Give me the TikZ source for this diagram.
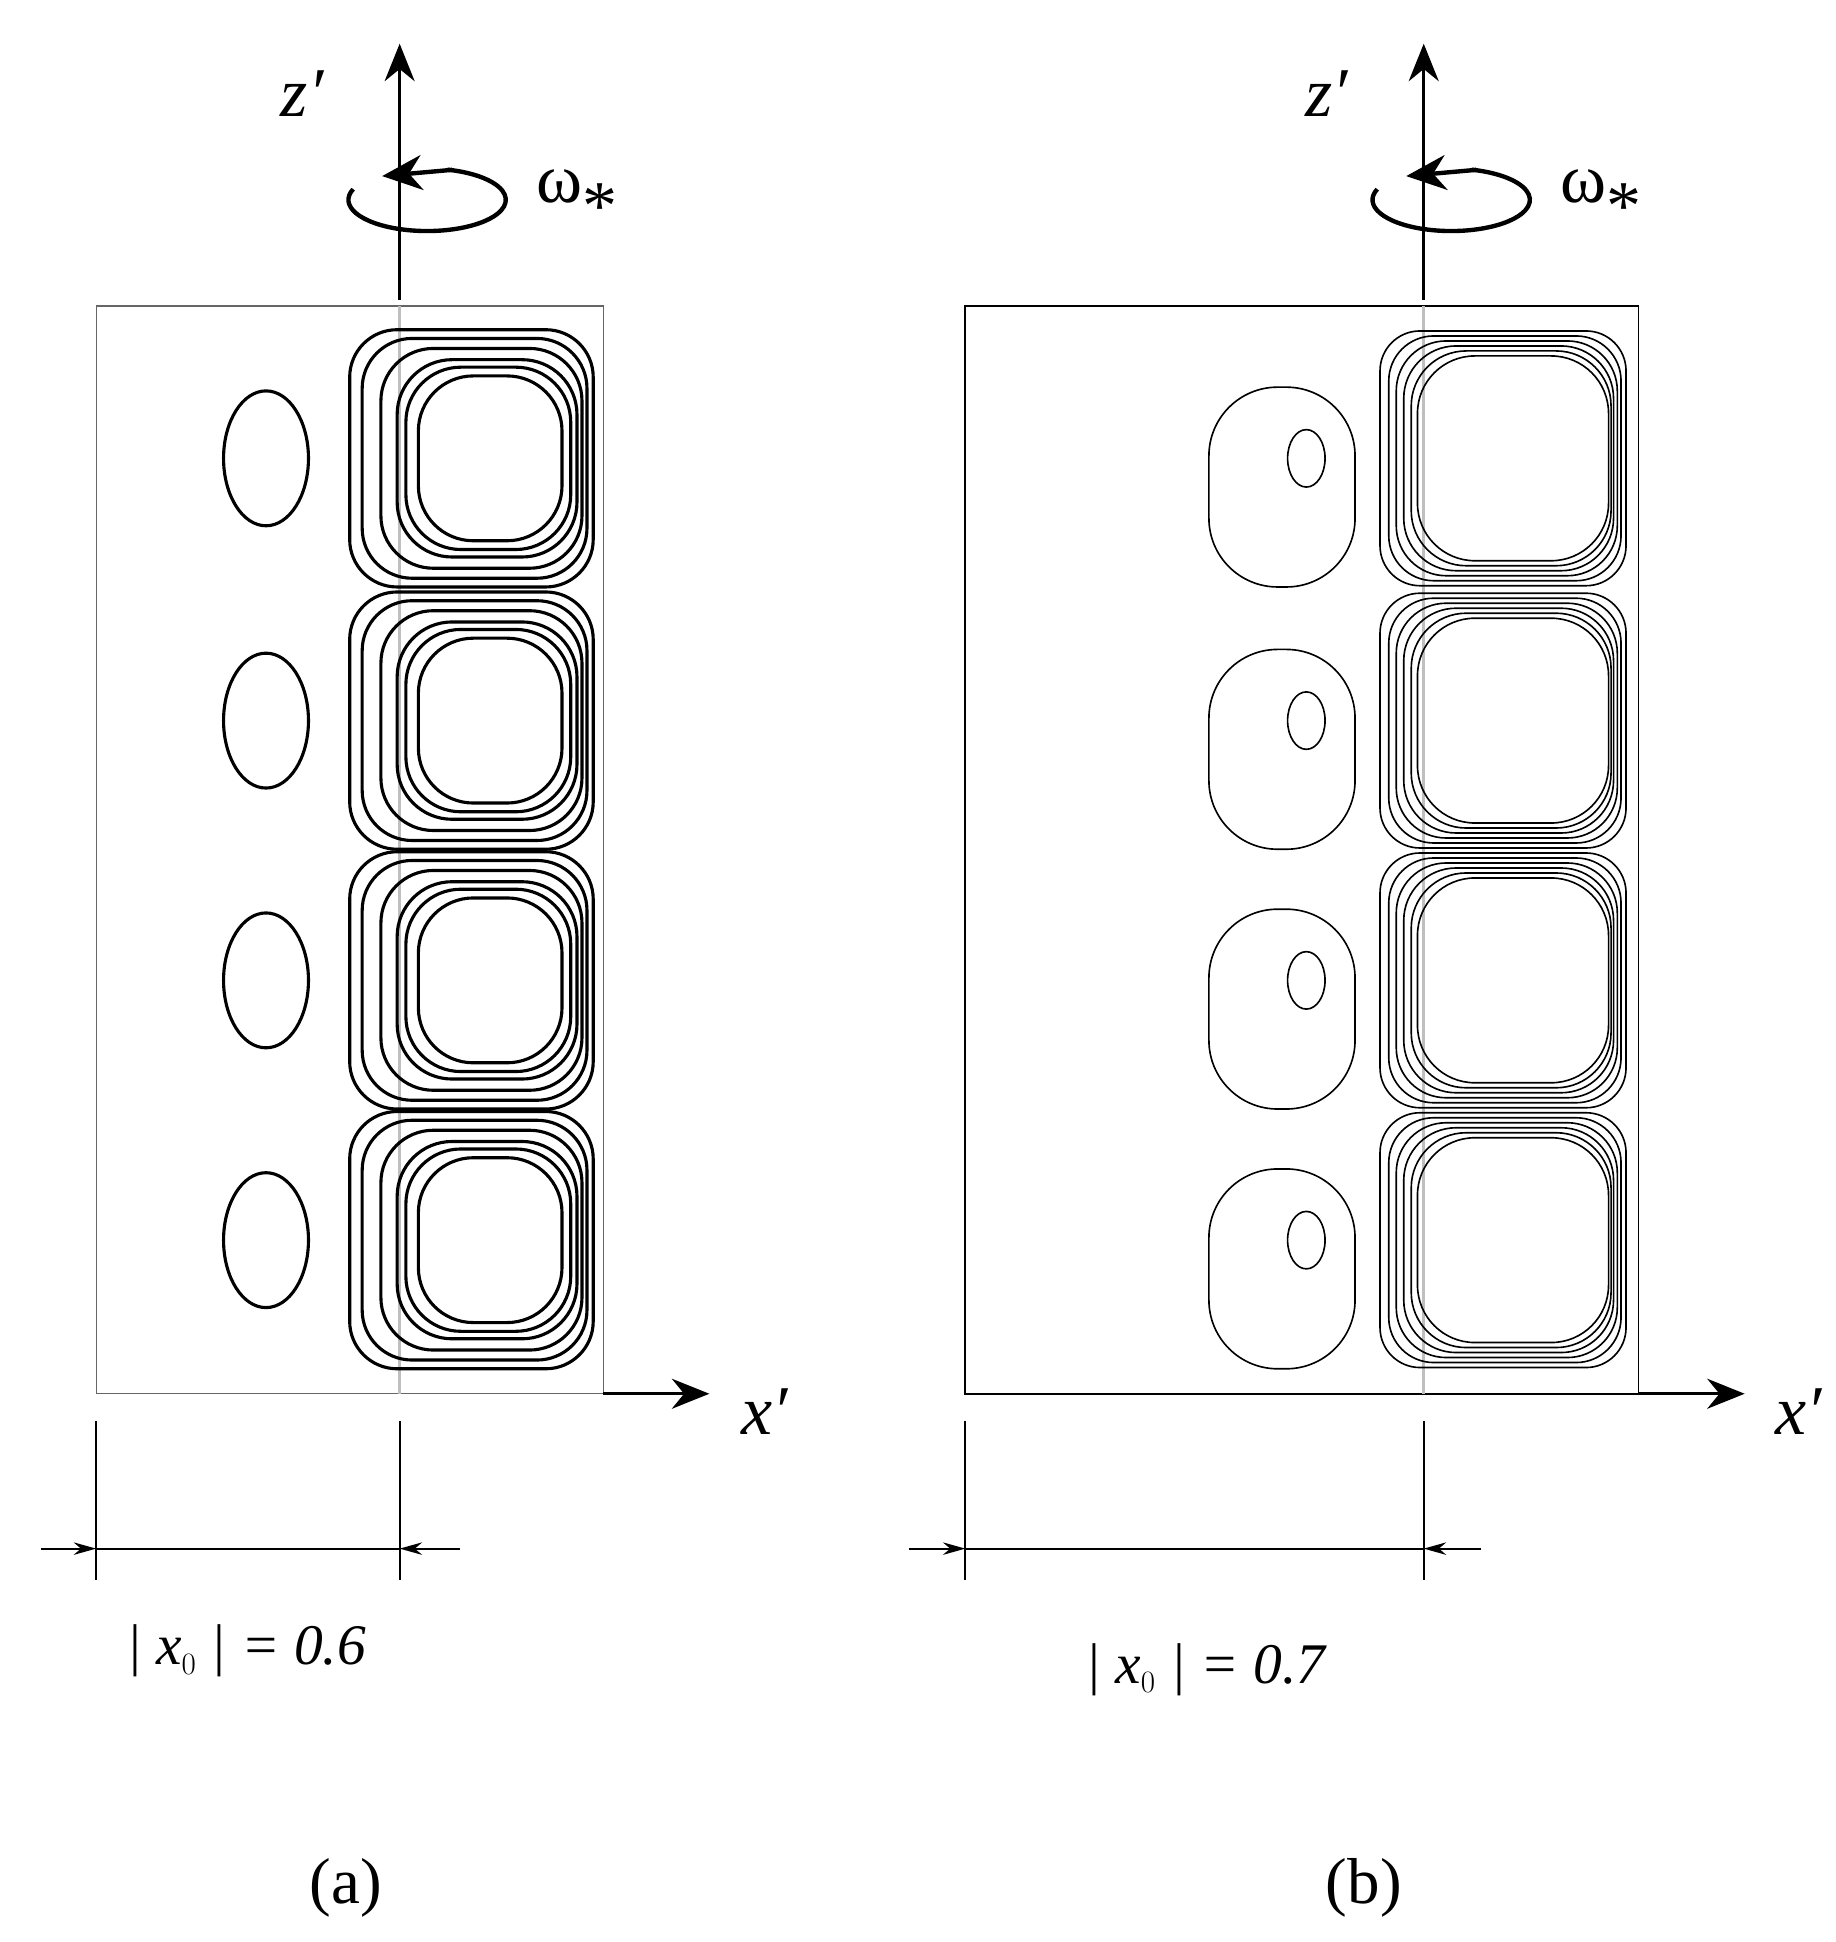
\documentclass[tikz,border=0pt]{standalone}
\usepackage{fontspec}
\setmainfont{Liberation Serif}
\usetikzlibrary{arrows.meta}
\begin{document}
\begin{tikzpicture}[x=1pt,y=-1pt,
  ax/.style={line width=2.5pt,-{Stealth[length=30pt,width=24pt]}},
  dim/.style={line width=1.5pt},
  lbl/.style={font=\fontsize{56}{60}\selectfont\itshape},
  om/.style={font=\fontsize{56}{60}\selectfont},
  capt/.style={font=\fontsize{52}{60}\selectfont}]
\useasboundingbox (0,0) rectangle (1470,1555);
% ---------- panel (a)
\draw[line width=1pt,gray!80!black] (77,245) rectangle (483,1116);
\draw[line width=2pt,gray!50] (320,245) -- (320,1116);
\coordinate (za0) at (320,240); \coordinate (za1) at (320,35);
\draw[ax] (za0) -- (za1);
\coordinate (xa0) at (483,1116); \coordinate (xa1) at (568,1116);
\draw[ax] (xa0) -- (xa1);
\node[lbl] (za) at (242,75) {z′};
\node[lbl] (xa) at (612,1130) {x′};
\draw[line width=3.5pt] (342,160) ++(200:63 and 25) arc[start angle=200,end angle=-75,x radius=63,y radius=25];
\coordinate (ra0) at (362,136); \coordinate (ra1) at (306,141);
\draw[line width=3.5pt,-{Stealth[length=32pt,width=28pt]}] (ra0) -- (ra1);
\node[om] (wa) at (462,160) {ω\raisebox{-22pt}{*}};
\foreach \cy in {367,577,785,993}{
  \draw[line width=2.5pt] (213,\cy) ellipse[x radius=34,y radius=54];
  \foreach \l/\r/\h/\rr in {280/475/103/38,290/470/96/40,305/466/88/42,318/462/79/44,325/457/73/44,335/450/66/44}{
    \draw[line width=2.5pt,rounded corners=\rr pt] (\l,\cy-\h) rectangle (\r,\cy+\h);}
}
\draw[dim] (77,1138) -- (77,1265);
\draw[dim] (320,1138) -- (320,1265);
\coordinate (da0) at (33,1240); \coordinate (da1) at (77,1240);
\coordinate (da2) at (368,1240); \coordinate (da3) at (320,1240);
\draw[dim] (da1) -- (da3);
\draw[dim,-{Stealth[length=18pt,width=10pt]}] (da0) -- (da1);
\draw[dim,-{Stealth[length=18pt,width=10pt]}] (da2) -- (da3);
\node[font=\fontsize{46}{50}\selectfont\itshape] (ta) at (197,1322) {| x$_0$ | = 0.6};
\node[capt] (ca) at (277,1512) {(a)};
% ---------- panel (b)
\draw[line width=1.5pt] (773,245) rectangle (1312,1116);
\draw[line width=2pt,gray!50] (1140,245) -- (1140,1116);
\coordinate (zb0) at (1140,240); \coordinate (zb1) at (1140,35);
\draw[ax] (zb0) -- (zb1);
\coordinate (xb0) at (1312,1116); \coordinate (xb1) at (1397,1116);
\draw[ax] (xb0) -- (xb1);
\node[lbl] (zb) at (1062,75) {z′};
\node[lbl] (xb) at (1440,1130) {x′};
\draw[line width=3.5pt] (1162,160) ++(200:63 and 25) arc[start angle=200,end angle=-75,x radius=63,y radius=25];
\coordinate (rb0) at (1182,136); \coordinate (rb1) at (1126,141);
\draw[line width=3.5pt,-{Stealth[length=32pt,width=28pt]}] (rb0) -- (rb1);
\node[om] (wb) at (1282,160) {ω\raisebox{-22pt}{*}};
\foreach \cy in {367,577,785,993}{
  \draw[line width=1.3pt] (1046,\cy) ellipse[x radius=15,y radius=23];
  \draw[line width=1.3pt,rounded corners=55pt] (968,\cy-57) rectangle (1085,\cy+103);
  \foreach \l/\r/\h/\rr in {1105/1302/102/32,1112/1298/98/36,1118/1295/94/40,1124/1292/90/42,1130/1290/86/44,1135/1288/82/46}{
    \draw[line width=1.3pt,rounded corners=\rr pt] (\l,\cy-\h) rectangle (\r,\cy+\h);}
}
\draw[dim] (773,1138) -- (773,1265);
\draw[dim] (1140,1138) -- (1140,1265);
\coordinate (db0) at (728,1240); \coordinate (db1) at (773,1240);
\coordinate (db2) at (1186,1240); \coordinate (db3) at (1140,1240);
\draw[dim] (db1) -- (db3);
\draw[dim,-{Stealth[length=18pt,width=10pt]}] (db0) -- (db1);
\draw[dim,-{Stealth[length=18pt,width=10pt]}] (db2) -- (db3);
\node[font=\fontsize{46}{50}\selectfont\itshape] (tb) at (965,1337) {| x$_0$ | = 0.7};
\node[capt] (cb) at (1092,1512) {(b)};
\end{tikzpicture}
\end{document}
